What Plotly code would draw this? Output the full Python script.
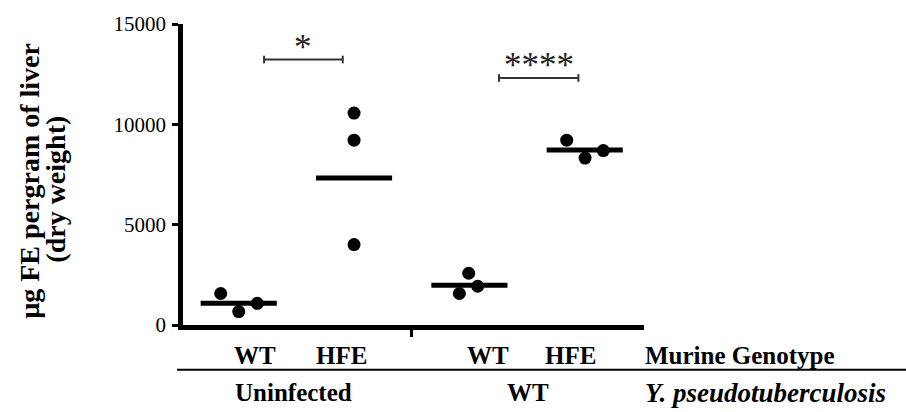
import plotly.graph_objects as go

# Liver iron per group (µg Fe per g dry weight)
groups = [1, 2, 3, 4]
genotype_labels = ["WT", "HFE", "WT", "HFE"]
infection_labels = ["Uninfected", "WT"]
row_headers = ["Murine Genotype", "<i>Y. pseudotuberculosis</i>"]
y_ticks = [0, 5000, 10000, 15000]
y_tick_text = ["0", "5000", "10000", "15000"]
y_title_lines = ["µg FE pergram of liver", "(dry weight)"]

point_values = [
    [1570, 670, 1080],
    [10560, 9210, 4010],
    [2580, 1570, 1930],
    [9210, 8320, 8690],
]
point_jitter = [
    [-0.156, 0.0, 0.161],
    [0.0, 0.0, 0.0],
    [-0.006, -0.087, 0.072],
    [-0.156, 0.003, 0.161],
]
group_means = [1080, 7330, 1980, 8720]

sig_labels = ["*", "****"]

# ---- layout constants ----
SERIF = "Liberation Serif, Times New Roman, serif"
W, H = 906, 412
ML, MR, MT, MB = 183, 262, 18, 87
X_RANGE = [0.517, 4.514]
Y_RANGE = [0, 15000]
MEAN_HALF = 0.33


def paper_x(px):
    return (px - ML) / (W - ML - MR)


def paper_y(py):
    return (H - MB - py) / (H - MT - MB)


fig = go.Figure()

# individual animals
xs, ys = [], []
for g, vals, jit in zip(groups, point_values, point_jitter):
    for v, j in zip(vals, jit):
        xs.append(g + j)
        ys.append(v)
fig.add_trace(go.Scatter(
    x=xs, y=ys, mode="markers",
    marker=dict(color="black", size=13, line=dict(width=0)),
    showlegend=False, hoverinfo="skip",
))

# group means
mx, my = [], []
for g, m in zip(groups, group_means):
    mx += [g - MEAN_HALF, g + MEAN_HALF, None]
    my += [m, m, None]
fig.add_trace(go.Scatter(
    x=mx, y=my, mode="lines",
    line=dict(color="black", width=5),
    showlegend=False, hoverinfo="skip",
))

# significance brackets
bracket_x = [(1.22, 1.902), (3.257, 3.945)]
bracket_y = [13230, 12310]
cap = 190
star_pos = [(1.558, 13830), (3.604, 12920)]
shapes = []
for (x0, x1), by in zip(bracket_x, bracket_y):
    style = dict(color="#333333", width=2)
    shapes.append(dict(type="line", xref="x", yref="y", x0=x0, x1=x1, y0=by, y1=by, line=style))
    for xe in (x0, x1):
        shapes.append(dict(type="line", xref="x", yref="y", x0=xe, x1=xe,
                           y0=by - cap, y1=by + cap, line=style))
annotations = []
for (sx, sy), lab in zip(star_pos, sig_labels):
    annotations.append(dict(x=sx, y=sy, xref="x", yref="y", text=lab, showarrow=False,
                            xanchor="center", yanchor="middle",
                            font=dict(family=SERIF, size=35, color="#222222")))

# category labels below the axis
label_font = dict(family=SERIF, size=25, color="black", weight="bold")
row1_y, row2_y = paper_y(356.5), paper_y(394)
geno_px = [255, 341, 487.5, 570]
for px, t in zip(geno_px, genotype_labels):
    annotations.append(dict(x=paper_x(px), y=row1_y, xref="paper", yref="paper", text=t,
                            showarrow=False, xanchor="center", yanchor="middle", font=label_font))
infect_px = [293, 528]
for px, t in zip(infect_px, infection_labels):
    annotations.append(dict(x=paper_x(px), y=row2_y, xref="paper", yref="paper", text=t,
                            showarrow=False, xanchor="center", yanchor="middle", font=label_font))
for yy, t, fs in zip([row1_y, row2_y], row_headers, [25, 27]):
    annotations.append(dict(x=paper_x(643), y=yy, xref="paper", yref="paper", text=t,
                            showarrow=False, xanchor="left", yanchor="middle",
                            font=dict(label_font, size=fs)))

# separator line between the two label rows
shapes.append(dict(type="line", xref="paper", yref="paper", x0=paper_x(177), x1=paper_x(910),
                   y0=paper_y(370.7), y1=paper_y(370.7), line=dict(color="black", width=2)))

# y-axis title, two lines
title_font = dict(family=SERIF, size=28, color="black", weight="bold")
for xp, yp, t in zip([30, 56], [178, 187], y_title_lines):
    annotations.append(dict(x=paper_x(xp), y=paper_y(yp), xref="paper", yref="paper",
                            text=t, textangle=-90, showarrow=False,
                            xanchor="center", yanchor="middle", font=title_font))

fig.update_layout(
    width=W, height=H,
    margin=dict(l=ML, r=MR, t=MT, b=MB),
    paper_bgcolor="white", plot_bgcolor="white",
    shapes=shapes, annotations=annotations,
    xaxis=dict(range=X_RANGE, showgrid=False, zeroline=False,
               showline=True, linecolor="black", linewidth=4.5,
               tickvals=[2.5], ticks="outside", ticklen=7, tickwidth=3,
               tickcolor="black", showticklabels=False),
    yaxis=dict(range=Y_RANGE, showgrid=False, zeroline=False,
               showline=True, linecolor="black", linewidth=4.5,
               tickvals=y_ticks, ticktext=y_tick_text, ticks="outside", ticklen=6,
               tickwidth=3, tickcolor="black", ticklabelstandoff=2,
               tickfont=dict(family=SERIF, size=21, color="black")),
)

fig.write_html("out.html")
